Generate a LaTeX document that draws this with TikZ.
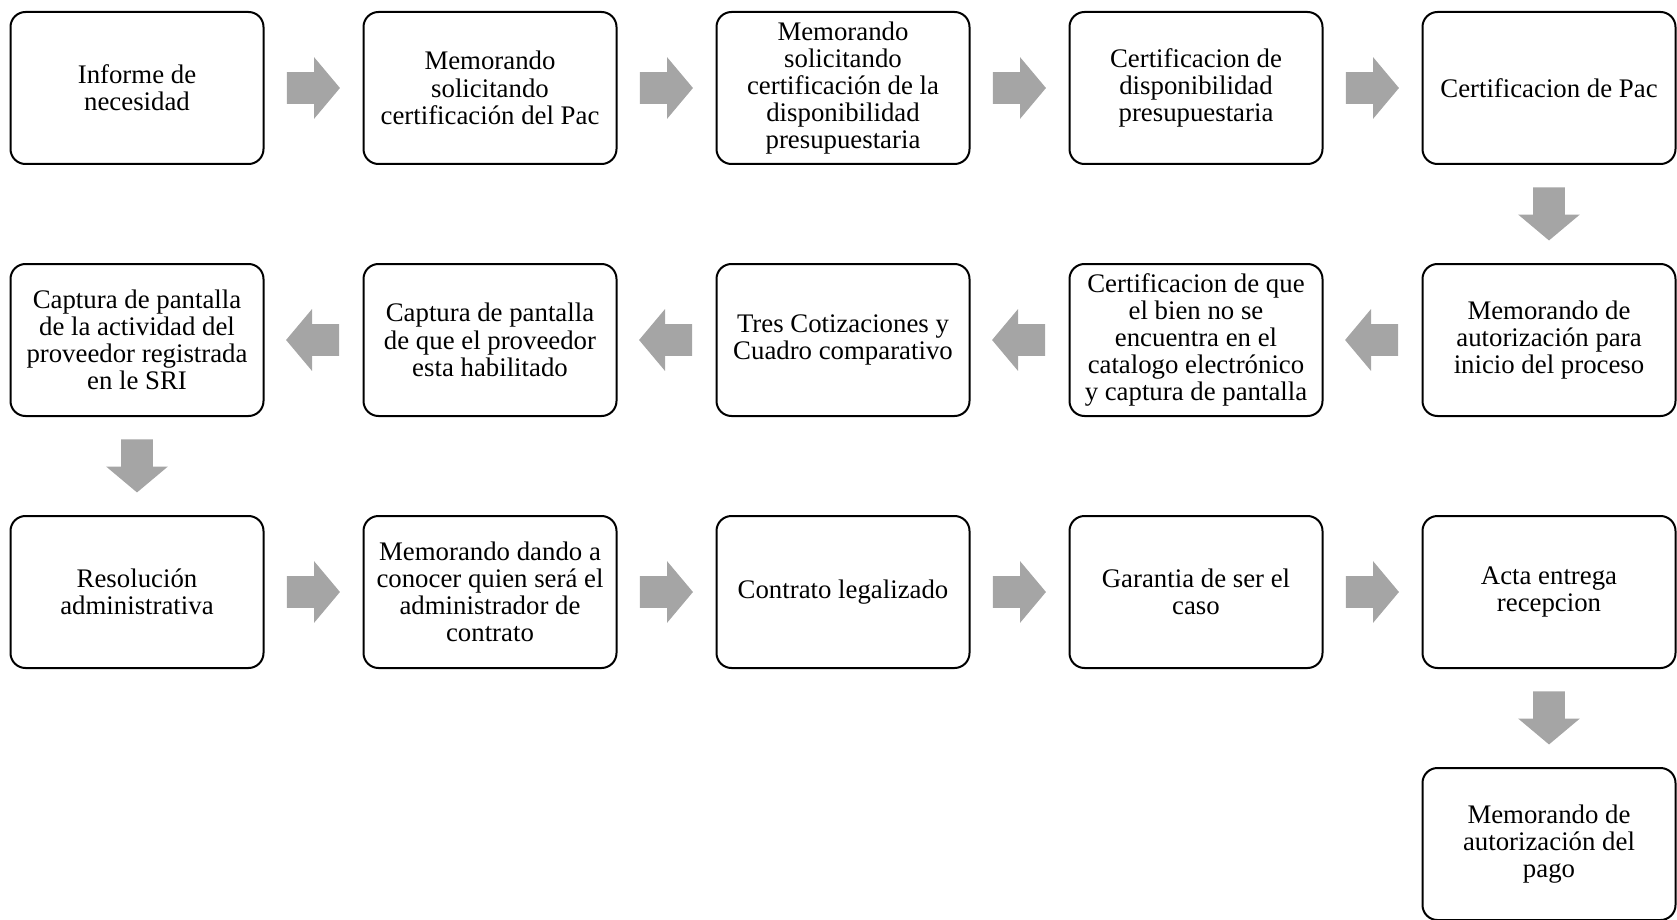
\documentclass[tikz,border=0pt]{standalone}
\usepackage{fontspec}
\setmainfont{Liberation Serif}
\usepackage{tikz}
\usetikzlibrary{shapes.arrows, positioning, calc}
\usepackage{xcolor}
\definecolor{flowgray}{RGB}{165, 165, 165}
\tikzstyle{stepbox} = [rectangle, rounded corners=7.5pt, minimum width=126.5pt, minimum height=76pt, draw=black, line width=1pt, fill=white, align=center, inner sep=2pt, font=\fontsize{13.4pt}{13.6pt}\selectfont]
\tikzstyle{flowarrow} = [single arrow, anchor=tail, fill=flowgray, draw=none, minimum height=26.5pt, inner xsep=0pt, inner ysep=7.75pt, single arrow head extend=7.5pt, single arrow tip angle=100]
\tikzstyle{flowarrowdown} = [flowarrow, shape border rotate=270, inner xsep=7.75pt, inner ysep=0pt]

\begin{document}
\begin{tikzpicture}[x=0.5pt, y=-0.5pt]
\useasboundingbox (0,0) rectangle (1677,920);

% First row
\node[stepbox] (informe) at (137,88) {Informe de\\necesidad};
\node[stepbox] (memopac) at (490,88) {Memorando\\solicitando\\certificación del Pac};
\node[stepbox] (memopres) at (843,88) {Memorando\\solicitando\\certificación de la\\disponibilidad\\presupuestaria};
\node[stepbox] (certpres) at (1196,88) {Certificacion de\\disponibilidad\\presupuestaria};
\node[stepbox] (certpac) at (1549,88) {Certificacion de Pac};

% Second row (right to left)
\node[stepbox] (memoinicio) at (1549,340) {Memorando de\\autorización para\\inicio del proceso};
\node[stepbox] (catalogo) at (1196,340) {Certificacion de que\\el bien no se\\encuentra en el\\catalogo electrónico\\y captura de pantalla};
\node[stepbox] (cotiz) at (843,340) {Tres Cotizaciones y\\Cuadro comparativo};
\node[stepbox] (habil) at (490,340) {Captura de pantalla\\de que el proveedor\\esta habilitado};
\node[stepbox] (sri) at (137,340) {Captura de pantalla\\de la actividad del\\proveedor registrada\\en le SRI};

% Third row
\node[stepbox] (resol) at (137,592) {Resolución\\administrativa};
\node[stepbox] (memoadmin) at (490,592) {Memorando dando a\\conocer quien será el\\administrador de\\contrato};
\node[stepbox] (contrato) at (843,592) {Contrato legalizado};
\node[stepbox] (garantia) at (1196,592) {Garantia de ser el\\caso};
\node[stepbox] (acta) at (1549,592) {Acta entrega\\recepcion};

% Last step
\node[stepbox] (memopago) at (1549,844) {Memorando de\\autorización del\\pago};

% Arrows
\node[flowarrow] (a1) at ($(informe.east)!0.225!(memopac.west)$) {};
\node[flowarrow] (a2) at ($(memopac.east)!0.225!(memopres.west)$) {};
\node[flowarrow] (a3) at ($(memopres.east)!0.225!(certpres.west)$) {};
\node[flowarrow] (a4) at ($(certpres.east)!0.225!(certpac.west)$) {};
\node[flowarrowdown] (a5) at ($(certpac.south)!0.225!(memoinicio.north)$) {};
\node[flowarrow, shape border rotate=180] (a6) at ($(memoinicio.west)!0.235!(catalogo.east)$) {};
\node[flowarrow, shape border rotate=180] (a7) at ($(catalogo.west)!0.235!(cotiz.east)$) {};
\node[flowarrow, shape border rotate=180] (a8) at ($(cotiz.west)!0.235!(habil.east)$) {};
\node[flowarrow, shape border rotate=180] (a9) at ($(habil.west)!0.235!(sri.east)$) {};
\node[flowarrowdown] (a10) at ($(sri.south)!0.225!(resol.north)$) {};
\node[flowarrow] (a11) at ($(resol.east)!0.225!(memoadmin.west)$) {};
\node[flowarrow] (a12) at ($(memoadmin.east)!0.225!(contrato.west)$) {};
\node[flowarrow] (a13) at ($(contrato.east)!0.225!(garantia.west)$) {};
\node[flowarrow] (a14) at ($(garantia.east)!0.225!(acta.west)$) {};
\node[flowarrowdown] (a15) at ($(acta.south)!0.225!(memopago.north)$) {};
\end{tikzpicture}
\end{document}
